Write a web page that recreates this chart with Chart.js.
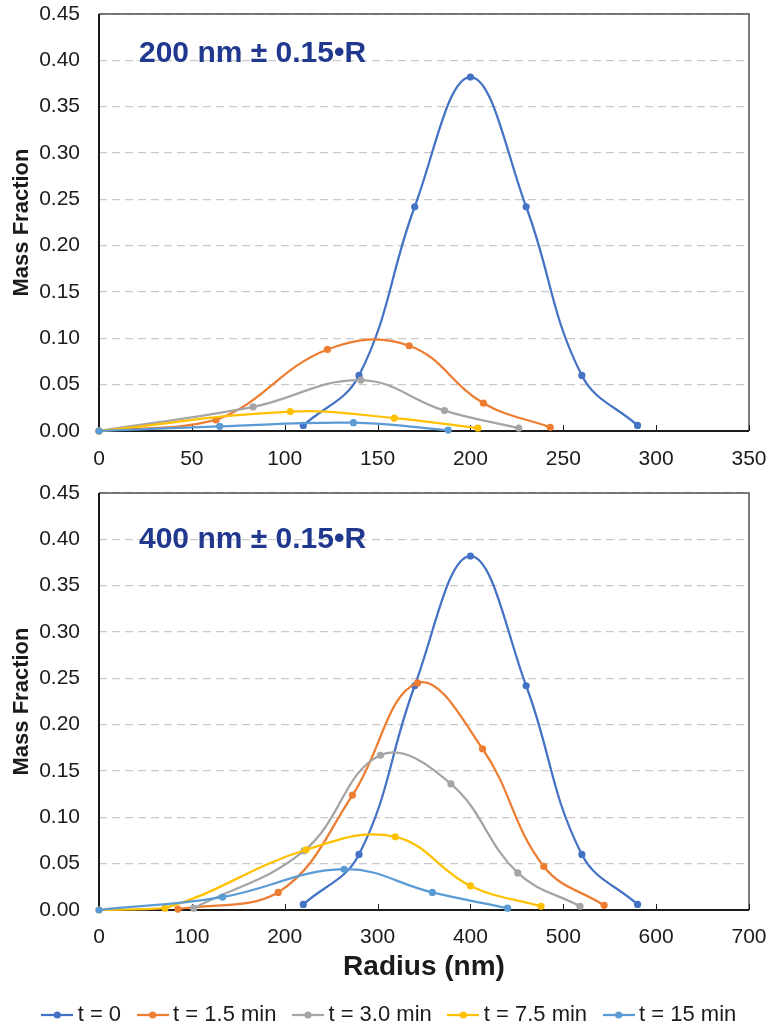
<!DOCTYPE html>
<html>
<head>
<meta charset="utf-8">
<script src="https://cdn.jsdelivr.net/npm/chart.js@4.4.1/dist/chart.umd.min.js"></script>
<style>
  body { margin: 0; background: #fff; overflow: hidden; }
  canvas { position: absolute; left: 0; }
</style>
</head>
<body>
<canvas id="chart200" width="770" height="470" style="top:0px"></canvas>
<canvas id="chart400" width="770" height="570" style="top:470px"></canvas>
<script>
// series names (legend)
var seriesNames = ['t = 0', 't = 1.5 min', 't = 3.0 min', 't = 7.5 min', 't = 15 min'];
var seriesColors = ['#4472C4', '#ED7D31', '#A5A5A5', '#FFC000', '#5B9BD5'];

// 200 nm panel : radius (nm) / mass fraction
var r200_t0 = [110, 140, 170, 200, 230, 260, 290];
var m200_t0 = [0.006, 0.060, 0.242, 0.382, 0.242, 0.060, 0.006];
var r200_t15 = [0, 63, 123, 167, 207, 243];
var m200_t15 = [0, 0.012, 0.088, 0.092, 0.030, 0.004];
var r200_t30 = [0, 83, 141, 186, 226];
var m200_t30 = [0, 0.026, 0.055, 0.022, 0.003];
var r200_t75 = [0, 103, 159, 204];
var m200_t75 = [0, 0.021, 0.014, 0.003];
var r200_t150 = [0, 65, 137, 188];
var m200_t150 = [0, 0.005, 0.009, 0.001];

// 400 nm panel
var r400_t0 = [220, 280, 340, 400, 460, 520, 580];
var m400_t0 = [0.006, 0.060, 0.242, 0.382, 0.242, 0.060, 0.006];
var r400_t15 = [85, 193, 273, 343, 413, 479, 544];
var m400_t15 = [0.001, 0.019, 0.124, 0.245, 0.174, 0.047, 0.005];
var r400_t30 = [102, 221, 303, 379, 451, 518];
var m400_t30 = [0.002, 0.064, 0.167, 0.136, 0.040, 0.004];
var r400_t75 = [0, 71, 223, 319, 400, 476];
var m400_t75 = [0, 0.002, 0.065, 0.079, 0.026, 0.004];
var r400_t150 = [0, 133, 264, 359, 440];
var m400_t150 = [0, 0.014, 0.044, 0.019, 0.002];

var yTicks = [0, 0.05, 0.10, 0.15, 0.20, 0.25, 0.30, 0.35, 0.40, 0.45];

var FONT = "'Liberation Sans', Arial, sans-serif";
var TEXT = '#1b1b1b';

function pairs(xs, ys) {
  return xs.map(function (x, i) { return { x: x, y: ys[i] }; });
}

function makeSets(list) {
  return list.map(function (s, i) {
    return {
      label: seriesNames[i],
      data: pairs(s[0], s[1]),
      borderColor: seriesColors[i],
      backgroundColor: seriesColors[i],
      borderWidth: 2.25,
      pointRadius: 3.6,
      pointBorderWidth: 0,
      pointHoverRadius: 3.6,
      tension: 0.4,
      clip: false,
      order: 5 - i   // later series drawn on top, like excel
    };
  });
}

// small icon for legend : line with a dot
function legendIcon(color) {
  var c = document.createElement('canvas');
  c.width = 32; c.height = 10;
  var g = c.getContext('2d');
  g.strokeStyle = color; g.lineWidth = 2.25;
  g.beginPath(); g.moveTo(0, 5); g.lineTo(32, 5); g.stroke();
  g.fillStyle = color;
  g.beginPath(); g.arc(16, 5, 3.6, 0, Math.PI * 2); g.fill();
  return c;
}

// plot frame, inner tick marks and the panel label
var frame = {
  id: 'frame',
  beforeDatasetsDraw: function (chart) {
    var a = chart.chartArea, ctx = chart.ctx, xs = chart.scales.x;
    ctx.save();
    ctx.strokeStyle = '#505050';
    ctx.lineWidth = 1.5;
    ctx.beginPath();
    ctx.moveTo(a.left, a.top); ctx.lineTo(a.right, a.top); ctx.lineTo(a.right, a.bottom);
    ctx.stroke();
    ctx.strokeStyle = '#1b1b1b';
    ctx.lineWidth = 1;
    xs.ticks.forEach(function (t) {
      var px = Math.round(xs.getPixelForValue(t.value)) + 0.5;
      ctx.beginPath(); ctx.moveTo(px, a.bottom); ctx.lineTo(px, a.bottom - 6); ctx.stroke();
    });
    ctx.lineWidth = 2;
    ctx.beginPath();
    ctx.moveTo(a.left, a.top); ctx.lineTo(a.left, a.bottom); ctx.lineTo(a.right, a.bottom);
    ctx.stroke();
    ctx.restore();
  },
  afterDraw: function (chart, args, opts) {
    var ctx = chart.ctx, a = chart.chartArea;
    ctx.save();
    ctx.font = 'bold 30px ' + FONT;
    ctx.fillStyle = '#21388F';
    ctx.textBaseline = 'alphabetic';
    ctx.fillText(opts.text, a.left + 40, a.top + opts.dy);
    ctx.restore();
  }
};

// drop the label overhang paddings, layout padding decides the plot box
function noOverhang(s) {
  s.paddingTop = 0; s.paddingBottom = 0; s.paddingLeft = 0; s.paddingRight = 0;
}

function yAxis(width, titlePad) {
  return {
    min: 0, max: 0.45,
    afterBuildTicks: function (s) { s.ticks = yTicks.map(function (v) { return { value: v }; }); },
    afterFit: function (s) { s.width = width; noOverhang(s); },
    ticks: {
      padding: 19, color: TEXT, font: { family: FONT, size: 21 },
      callback: function (v) { return v.toFixed(2); }
    },
    grid: { color: '#C9C9C9', lineWidth: 1.2, drawTicks: false },
    border: { display: false, dash: [8, 5] },
    title: {
      display: true, text: 'Mass Fraction', color: TEXT,
      font: { family: FONT, size: 22, weight: 'bold' },
      padding: { top: titlePad, bottom: 0 }
    }
  };
}

Chart.defaults.animation = false;

// ---- 200 nm
new Chart(document.getElementById('chart200'), {
  type: 'line',
  data: {
    datasets: makeSets([[r200_t0, m200_t0], [r200_t15, m200_t15], [r200_t30, m200_t30], [r200_t75, m200_t75], [r200_t150, m200_t150]])
  },
  options: {
    responsive: false,
    devicePixelRatio: 1,
    layout: { autoPadding: false, padding: { top: 14, right: 21, bottom: 0, left: 0 } },
    plugins: {
      legend: { display: false },
      tooltip: { enabled: false },
      frame: { text: '200 nm ± 0.15•R', dy: 48 }
    },
    scales: {
      x: {
        type: 'linear', min: 0, max: 350,
        afterFit: function (s) { s.height = 39; noOverhang(s); },
        ticks: { stepSize: 50, padding: 8, color: TEXT, font: { family: FONT, size: 21 } },
        grid: { display: false },
        border: { display: false }
      },
      y: yAxis(99, 8.8)
    }
  },
  plugins: [frame]
});

// ---- 400 nm
new Chart(document.getElementById('chart400'), {
  type: 'line',
  data: {
    datasets: makeSets([[r400_t0, m400_t0], [r400_t15, m400_t15], [r400_t30, m400_t30], [r400_t75, m400_t75], [r400_t150, m400_t150]])
  },
  options: {
    responsive: false,
    devicePixelRatio: 1,
    layout: { autoPadding: false, padding: { top: 23, right: 0, bottom: 4, left: 14 } },
    plugins: {
      tooltip: { enabled: false },
      frame: { text: '400 nm ± 0.15•R', dy: 55 },
      legend: {
        position: 'bottom',
        labels: {
          usePointStyle: true,
          pointStyleWidth: 19,
          boxHeight: 22,
          padding: 22,
          color: TEXT,
          font: { family: FONT, size: 22 },
          generateLabels: function (chart) {
            return chart.data.datasets.map(function (ds, i) {
              return {
                text: ds.label,
                pointStyle: legendIcon(ds.borderColor),
                fillStyle: ds.borderColor,
                strokeStyle: ds.borderColor,
                lineWidth: 0,
                hidden: false,
                datasetIndex: i,
                fontColor: TEXT
              };
            });
          }
        }
      }
    },
    scales: {
      x: {
        type: 'linear', min: 0, max: 700,
        afterFit: function (s) { s.height = 72; noOverhang(s); },
        ticks: { stepSize: 100, padding: 7, color: TEXT, font: { family: FONT, size: 21 } },
        grid: { display: false },
        border: { display: false },
        title: {
          display: true, text: 'Radius (nm)', color: TEXT,
          font: { family: FONT, size: 28, weight: 'bold', lineHeight: 1 },
          padding: { top: 0, bottom: 1 }
        }
      },
      y: yAxis(85, -5.2),
      // empty right axis, only keeps room on the right side
      r: {
        type: 'linear', axis: 'y', position: 'right',
        afterFit: function (s) { s.width = 21; noOverhang(s); },
        ticks: { display: false },
        grid: { display: false },
        border: { display: false }
      }
    }
  },
  plugins: [frame]
});
</script>
</body>
</html>
